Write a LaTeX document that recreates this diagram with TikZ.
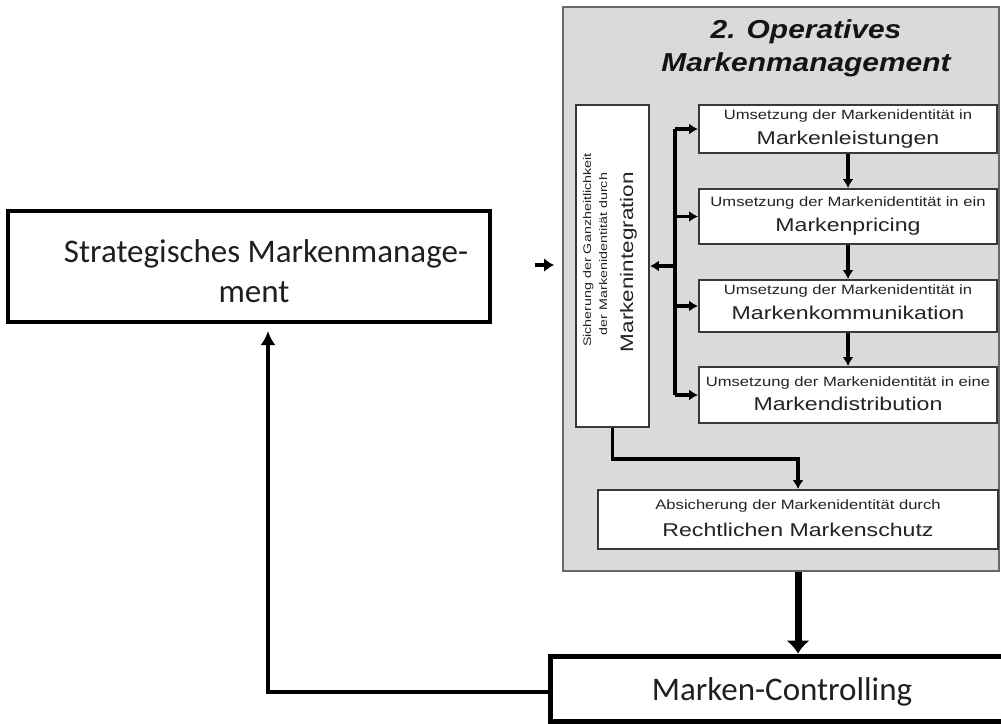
\documentclass[tikz,border=0pt]{standalone}
\usepackage{fontspec}
\usepackage{graphicx}
\newfontfamily\carl{Carlito}
\newfontfamily\arial{Liberation Sans}
\usetikzlibrary{arrows.meta}
\newcommand{\stxs}[1]{\scalebox{1.23}[1]{#1}}
\newcommand{\stxl}[1]{\scalebox{1.25}[1]{#1}}
\newcommand{\stxr}[1]{\scalebox{1.3}[1]{#1}}
\definecolor{panel}{RGB}{218,218,218}
\definecolor{pborder}{RGB}{105,105,105}
\definecolor{txt}{RGB}{35,35,35}
\begin{document}
\begin{tikzpicture}[x=1pt,y=-1pt,
  box/.style={draw=black!78, line width=1.8pt, fill=white, inner sep=0pt, rectangle},
  arr/.style={line width=3.3pt, -{Latex[length=9pt,width=11pt]}},
  sm/.style={font=\arial\fontsize{13.5}{16}\selectfont, text=txt, anchor=base, inner sep=0pt},
  lrg/.style={font=\arial\fontsize{18.5}{22}\selectfont, text=txt, anchor=base, inner sep=0pt},
  smr/.style={font=\arial\fontsize{11}{13}\selectfont, text=txt, anchor=base, inner sep=0pt, rotate=90},
  lrgr/.style={font=\arial\fontsize{18}{21}\selectfont, text=txt, anchor=base, inner sep=0pt, rotate=90},
  cal/.style={font=\carl\fontsize{33}{40}\selectfont, text=black!88, anchor=base, inner sep=0pt},
  ttl/.style={font=\arial\bfseries\itshape\fontsize{26}{30}\selectfont, text=black!92, anchor=base, inner sep=0pt}
]
\path[use as bounding box, fill=white] (0,0) rectangle (1001,723);

% strategic box
\node[draw=black, line width=4.5pt, fill=white, rectangle, inner sep=0pt,
      minimum width=482pt, minimum height=111pt] (strat) at (249,266.5) {};
\node[cal] (s1) at (266,262) {Strategisches Markenmanage-};
\node[cal] (s2) at (254,302) {ment};

% operative panel
\node[draw=pborder, line width=2.2pt, fill=panel, rectangle, inner sep=0pt,
      minimum width=436pt, minimum height=564pt] (op) at (781,289) {};
\node[ttl] (t1) at (806,38) {\scalebox{1.15}[1]{2. Operatives}};
\node[ttl] (t2) at (806,71) {\scalebox{1.15}[1]{Markenmanagement}};

% integration box
\node[box, minimum width=73pt, minimum height=322pt] (int) at (612.5,266) {};
\node[smr] (i1) at (591,250) {\stxr{Sicherung der Ganzheitlichkeit}};
\node[smr] (i2) at (607,254) {\stxr{der Markenidentität durch}};
\node[lrgr] (i3) at (633,262) {\stxl{Markenintegration}};

% right boxes
\node[box, minimum width=298pt, minimum height=48pt] (b1) at (848,129) {};
\node[sm] (b1a) at (848,119) {\stxs{Umsetzung der Markenidentität in}};
\node[lrg] (b1b) at (848,144) {\stxl{Markenleistungen}};

\node[box, minimum width=298pt, minimum height=55pt] (b2) at (848,216.5) {};
\node[sm] (b2a) at (848,206) {\stxs{Umsetzung der Markenidentität in ein}};
\node[lrg] (b2b) at (848,231) {\stxl{Markenpricing}};

\node[box, minimum width=298pt, minimum height=52pt] (b3) at (848,306) {};
\node[sm] (b3a) at (848,294) {\stxs{Umsetzung der Markenidentität in}};
\node[lrg] (b3b) at (848,319) {\stxl{Markenkommunikation}};

\node[box, minimum width=298pt, minimum height=56pt] (b4) at (848,395) {};
\node[sm] (b4a) at (848,386) {\stxs{Umsetzung der Markenidentität in eine}};
\node[lrg] (b4b) at (848,410) {\stxl{Markendistribution}};

\node[box, minimum width=400pt, minimum height=59pt] (rs) at (798,519.5) {};
\node[sm] (rsa) at (798,509) {\stxs{Absicherung der Markenidentität durch}};
\node[lrg] (rsb) at (798,536) {\stxl{Rechtlichen Markenschutz}};

% bracket connectors
\coordinate (br) at (675,129);
\draw[line width=3.3pt] (br |- b1.west) -- (br |- b4.west);
\draw[arr] (br |- b1.west) -- (b1.west);
\draw[arr] (br |- b2.west) -- (b2.west);
\draw[arr] (br |- b3.west) -- (b3.west);
\draw[arr] (br |- b4.west) -- (b4.west);
\draw[arr] (br |- int.east) -- (int.east);

% vertical arrows
\draw[arr] (b1.south) -- (b2.north);
\draw[arr] (b2.south) -- (b3.north);
\draw[arr] (b3.south) -- (b4.north);

% integration to legal protection
\draw[arr] (int.south) -- ++(0,31) -| (rs.north);

% strategic to operative
\coordinate (sa) at (535,265);
\coordinate (sb) at (554,265);
\draw[line width=4pt, -{Latex[length=10pt,width=14pt]}] (sa) -- (sb);

% marken-controlling box
\node[draw=black, line width=5pt, fill=white, rectangle, inner sep=0pt,
      minimum width=465pt, minimum height=65pt] (mc) at (782.5,688.5) {};
\node[cal] (m1) at (782,700) {Marken-Controlling};

% big arrow down
\draw[line width=7pt, -{Latex[length=13pt,width=24pt]}] (rs.south |- op.south) -- (rs.south |- mc.north);

% feedback arrow
\coordinate (fbtip) at (268,331);
\draw[line width=4.2pt, -{Latex[length=14pt,width=15pt]}] (mc.west |- 0,692) -| (fbtip);
\end{tikzpicture}
\end{document}
